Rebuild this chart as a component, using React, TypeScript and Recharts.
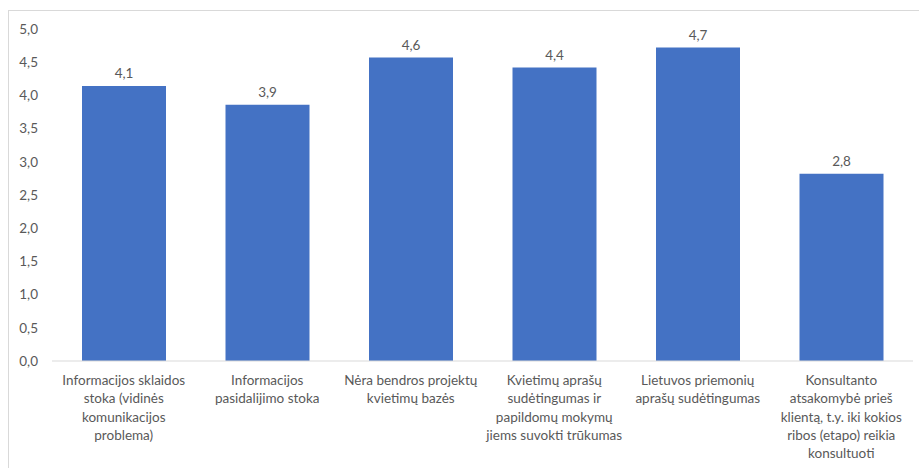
import React from 'react'
import { BarChart, Bar, XAxis, YAxis, LabelList } from 'recharts'

const categories = [
  'Informacijos sklaidos\nstoka (vidinės\nkomunikacijos\nproblema)',
  'Informacijos\npasidalijimo stoka',
  'Nėra bendros projektų\nkvietimų bazės',
  'Kvietimų aprašų\nsudėtingumas ir\npapildomų mokymų\njiems suvokti trūkumas',
  'Lietuvos priemonių\naprašų sudėtingumas',
  'Konsultanto\natsakomybė prieš\nklientą, t.y. iki kokios\nribos (etapo) reikia\nkonsultuoti',
]
const scores = [4.14, 3.86, 4.57, 4.42, 4.72, 2.82]
const yTicks = [0, 0.5, 1, 1.5, 2, 2.5, 3, 3.5, 4, 4.5, 5]

const FONT = 'Lato, "Open Sans", sans-serif'
const TEXT = '#595959'

const fmt = (v: number) => v.toFixed(1).replace('.', ',')

const chartData = categories.map((name, i) => ({ name, value: scores[i] }))

const CategoryTick = ({ x, y, payload }: any) => {
  const lines = String(payload.value).split('\n')
  return (
    <text x={x} y={y} textAnchor="middle" fill={TEXT} fontSize={13.5} fontFamily={FONT}>
      {lines.map((ln, i) => (
        <tspan key={i} x={x} dy={i === 0 ? 16 : 18.3}>
          {ln}
        </tspan>
      ))}
    </text>
  )
}

export default function App() {
  return (
    <div
      style={{
        position: 'fixed',
        left: 8,
        top: 10,
        width: 911,
        height: 458,
        borderTop: '1px solid #d9d9d9',
        borderLeft: '1px solid #d9d9d9',
        background: '#fff',
      }}
    >
      <BarChart
        width={910}
        height={457}
        data={chartData}
        margin={{ top: 18, right: 6, left: 0, bottom: 0 }}
        barCategoryGap={30}
      >
        <XAxis
          dataKey="name"
          interval={0}
          height={107}
          axisLine={{ stroke: '#d9d9d9' }}
          tickLine={false}
          tick={<CategoryTick />}
        />
        <YAxis
          domain={[0, 5]}
          ticks={yTicks}
          width={43}
          axisLine={false}
          tickLine={false}
          tickSize={6}
          tickMargin={8}
          tickFormatter={fmt}
          tick={{ fill: TEXT, fontSize: 13.5, fontFamily: FONT }}
        />
        <Bar dataKey="value" fill="#4472C4" isAnimationActive={false}>
          <LabelList
            dataKey="value"
            position="top"
            offset={8}
            formatter={(v: any) => fmt(Number(v))}
            style={{ fill: TEXT, fontSize: 13.5, fontFamily: FONT }}
          />
        </Bar>
      </BarChart>
    </div>
  )
}
